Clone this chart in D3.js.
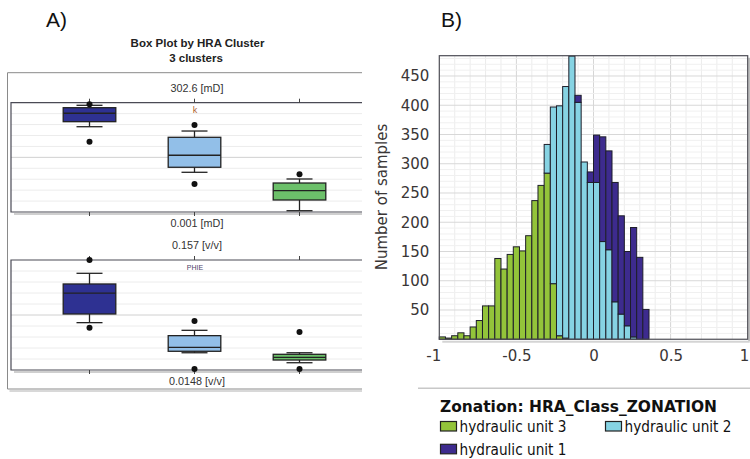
<!DOCTYPE html>
<html>
<head>
<meta charset="utf-8">
<script src="https://cdn.jsdelivr.net/npm/d3@7"></script>
<style>
  html, body { margin: 0; padding: 0; background: #fff; }
  svg { display: block; }
</style>
</head>
<body>
<svg id="chart" width="750" height="459"></svg>
<script>
// ---------- Box plot data (per HRA cluster) ----------
const clusters = ["1", "2", "3"];
const clusterFill = ["#2e3192", "#92bfe8", "#6cc06a"];

// permeability k [mD], log axis 0.001 .. 302.6
const kDomain = [0.001, 302.6];
const kWhiskerLow = [18.9, 0.098, 0.00116];
const kQ1 = [33.8, 0.175, 0.0040];
const kMedian = [89.5, 0.70, 0.0117];
const kQ3 = [170, 5.57, 0.0284];
const kWhiskerHigh = [224, 11.5, 0.0452];
const kOutliers = [[3.34, 251], [0.0254, 23.1], [0.078]];

// effective porosity PHIE [v/v], linear axis 0.0148 .. 0.157
const phiDomain = [0.0148, 0.157];
const phiWhiskerLow = [0.0760, 0.0371, 0.0242];
const phiQ1 = [0.0872, 0.0390, 0.0277];
const phiMedian = [0.1143, 0.0441, 0.0312];
const phiQ3 = [0.1260, 0.0592, 0.0351];
const phiWhiskerHigh = [0.1398, 0.0661, 0.0371];
const phiOutliers = [[0.157, 0.0695], [0.0781, 0.0160], [0.0639, 0.0160]];

// ---------- Histogram data ----------
const binWidth = 0.04;
const binStart = [-1.00, -0.96, -0.92, -0.88, -0.84, -0.80, -0.76, -0.72, -0.68, -0.64,
                  -0.60, -0.56, -0.52, -0.48, -0.44, -0.40, -0.36, -0.32, -0.28, -0.24,
                  -0.20, -0.16, -0.12, -0.08, -0.04, 0.00, 0.04, 0.08, 0.12, 0.16,
                  0.20, 0.24, 0.28, 0.32];
const unit3Counts = [4, 2, 6, 11, 6, 21, 32, 57, 57, 138,
                     120, 145, 158, 151, 177, 237, 263, 284, 95, 6,
                     2, 0, 0, 0, 0, 0, 0, 0, 0, 0,
                     0, 0, 0, 0];
const unit2Counts = [0, 0, 0, 0, 0, 0, 0, 0, 0, 0,
                     0, 0, 0, 0, 0, 0, 0, 49, 302, 393,
                     430, 484, 405, 303, 268, 268, 167, 153, 64, 43,
                     23, 4, 0, 0];
const unit1Counts = [0, 0, 0, 0, 0, 0, 0, 0, 0, 0,
                     0, 0, 0, 0, 0, 0, 0, 0, 0, 0,
                     0, 0, 12, 0, 18, 81, 179, 169, 204, 168,
                     127, 187, 140, 51];
const unitKeys = ["unit3", "unit2", "unit1"];
const unitNames = ["hydraulic unit 3", "hydraulic unit 2", "hydraulic unit 1"];
const unitColors = ["#93c43a", "#86d3e3", "#3d2b8e"];
const xTicks = [-1, -0.5, 0, 0.5, 1];
const xTickLabels = ["-1", "-0.5", "0", "0.5", "1"];
const yTicks = [50, 100, 150, 200, 250, 300, 350, 400, 450];

const svg = d3.select("#chart");
const sansA = "'Liberation Sans', Arial, sans-serif";
const sansB = "'DejaVu Sans', Verdana, sans-serif";

// ================= Panel A: box plots =================
svg.append("text").attr("x", 46).attr("y", 26.5)
  .attr("font-family", sansA).attr("font-size", 21).attr("fill", "#111").text("A)");

svg.append("text").attr("x", 197.5).attr("y", 47.3).attr("text-anchor", "middle")
  .attr("font-family", sansA).attr("font-size", 11.5).attr("font-weight", "bold")
  .attr("fill", "#222").text("Box Plot by HRA Cluster");
svg.append("text").attr("x", 196).attr("y", 61.7).attr("text-anchor", "middle")
  .attr("font-family", sansA).attr("font-size", 11.5).attr("font-weight", "bold")
  .attr("fill", "#222").text("3 clusters");

// outer frame (open on the right)
const frame = { left: 7.5, top: 72.7, bottom: 389, right: 362 };
svg.append("path")
  .attr("d", `M${frame.right},${frame.bottom + 2}H${frame.left + 2}`)
  .attr("stroke", "#d8d8d8").attr("stroke-width", 2).attr("fill", "none");
svg.append("path")
  .attr("d", `M${frame.right},${frame.top}H${frame.left}V${frame.bottom}H${frame.right}`)
  .attr("stroke", "#8a8a8a").attr("stroke-width", 1).attr("fill", "none");

const xBox = d3.scaleBand().domain(clusters).range([37, 352]).padding(0);
const boxHalf = 26.3, capHalf = 13;

function boxPanel(cfg) {
  const { top, bottom, scale, low, q1, med, q3, high, outliers,
          topLabel, bottomLabel, varName, varColor, varSize } = cfg;
  const left = 11, right = 362;
  const g = svg.append("g");
  // grid
  const h = bottom - top;
  d3.range(1, 10).forEach(i => {
    const yy = top + i * h / 10;
    g.append("line").attr("x1", left).attr("x2", right).attr("y1", yy).attr("y2", yy)
      .attr("stroke", i === 5 ? "#d0d0d0" : "#ececec").attr("stroke-width", 1);
  });
  // shadow under the panel
  g.append("line").attr("x1", left + 3).attr("x2", right).attr("y1", bottom + 2).attr("y2", bottom + 2)
    .attr("stroke", "#cfcfcf").attr("stroke-width", 2);
  // panel outline
  g.append("path").attr("d", `M${right},${top}H${left}V${bottom}H${right}`)
    .attr("stroke", "#4a4a55").attr("stroke-width", 1.2).attr("fill", "none");
  // ticks
  clusters.forEach(c => {
    const cx = xBox(c) + xBox.bandwidth() / 2;
    g.append("line").attr("x1", cx).attr("x2", cx).attr("y1", top - 4).attr("y2", top)
      .attr("stroke", "#444");
    g.append("line").attr("x1", cx).attr("x2", cx).attr("y1", bottom).attr("y2", bottom + 4)
      .attr("stroke", "#444");
  });
  // variable name
  g.append("text").attr("x", 195).attr("y", top + 10).attr("text-anchor", "middle")
    .attr("font-family", sansA).attr("font-size", varSize).attr("fill", varColor).text(varName);
  // range labels
  g.append("text").attr("x", 197).attr("y", top - 11).attr("text-anchor", "middle")
    .attr("font-family", sansA).attr("font-size", 10.8).attr("fill", "#333").text(topLabel);
  g.append("text").attr("x", 197).attr("y", bottom + 14.7).attr("text-anchor", "middle")
    .attr("font-family", sansA).attr("font-size", 10.8).attr("fill", "#333").text(bottomLabel);

  clusters.forEach((c, i) => {
    const cx = xBox(c) + xBox.bandwidth() / 2;
    const bg = g.append("g");
    // whiskers
    bg.append("line").attr("x1", cx).attr("x2", cx).attr("y1", scale(q3[i])).attr("y2", scale(high[i]))
      .attr("stroke", "#222").attr("stroke-width", 1.3);
    bg.append("line").attr("x1", cx).attr("x2", cx).attr("y1", scale(q1[i])).attr("y2", scale(low[i]))
      .attr("stroke", "#222").attr("stroke-width", 1.3);
    [high[i], low[i]].forEach(v => {
      bg.append("line").attr("x1", cx - capHalf).attr("x2", cx + capHalf)
        .attr("y1", scale(v)).attr("y2", scale(v)).attr("stroke", "#222").attr("stroke-width", 1.3);
    });
    // box
    bg.append("rect").attr("x", cx - boxHalf).attr("width", boxHalf * 2)
      .attr("y", scale(q3[i])).attr("height", scale(q1[i]) - scale(q3[i]))
      .attr("fill", clusterFill[i]).attr("stroke", "#222").attr("stroke-width", 1.3);
    bg.append("line").attr("x1", cx - boxHalf).attr("x2", cx + boxHalf)
      .attr("y1", scale(med[i])).attr("y2", scale(med[i])).attr("stroke", "#222").attr("stroke-width", 1.3);
    // outliers
    outliers[i].forEach(v => {
      bg.append("circle").attr("cx", cx).attr("cy", scale(v)).attr("r", 3).attr("fill", "#111");
    });
  });
}

const kTop = 102.7, kBottom = 212;
const yK = d3.scaleLog().domain(kDomain).range([kBottom, kTop]);
boxPanel({ top: kTop, bottom: kBottom, scale: yK, low: kWhiskerLow, q1: kQ1, med: kMedian,
  q3: kQ3, high: kWhiskerHigh, outliers: kOutliers,
  topLabel: "302.6 [mD]", bottomLabel: "0.001 [mD]", varName: "k", varColor: "#b0652e", varSize: 9 });

const pTop = 260, pBottom = 370;
const yPhi = d3.scaleLinear().domain(phiDomain).range([pBottom, pTop]);
boxPanel({ top: pTop, bottom: pBottom, scale: yPhi, low: phiWhiskerLow, q1: phiQ1, med: phiMedian,
  q3: phiQ3, high: phiWhiskerHigh, outliers: phiOutliers,
  topLabel: "0.157 [v/v]", bottomLabel: "0.0148 [v/v]", varName: "PHIE", varColor: "#4e3f6a", varSize: 7 });

// ================= Panel B: stacked histogram =================
svg.append("text").attr("x", 441).attr("y", 26.5)
  .attr("font-family", sansA).attr("font-size", 21).attr("fill", "#111").text("B)");

const plot = { left: 439.3, right: 747.7, top: 55.7, bottom: 339.25 };
const x = d3.scaleLinear().domain([-1, 1]).range([plot.left, plot.right]);
const y = d3.scaleLinear().domain([0, 484.7]).range([plot.bottom, plot.top]);

const hg = svg.append("g");
// grid: minor every 0.1 / 10 samples, major every 0.5 / 50 samples
d3.range(-9, 10).forEach(i => {
  const v = i / 10;
  hg.append("line").attr("x1", x(v)).attr("x2", x(v)).attr("y1", plot.top).attr("y2", plot.bottom)
    .attr("stroke", (i % 5 === 0) ? "#d6d6d6" : "#ececec").attr("stroke-width", 1);
});
d3.range(10, 485, 10).forEach(v => {
  hg.append("line").attr("x1", plot.left).attr("x2", plot.right).attr("y1", y(v)).attr("y2", y(v))
    .attr("stroke", (v % 50 === 0) ? "#d8d8d8" : "#f0f0f0").attr("stroke-width", 1);
});

// stacked bars
const rows = binStart.map((b, i) => ({ bin: b, unit3: unit3Counts[i], unit2: unit2Counts[i], unit1: unit1Counts[i] }));
const stacked = d3.stack().keys(unitKeys)(rows);
stacked.forEach((layer, li) => {
  hg.append("g").selectAll("rect").data(layer.filter(d => d[1] - d[0] > 0)).join("rect")
    .attr("x", d => x(d.data.bin))
    .attr("width", d => x(d.data.bin + binWidth) - x(d.data.bin))
    .attr("y", d => y(d[1]))
    .attr("height", d => y(d[0]) - y(d[1]))
    .attr("fill", unitColors[li])
    .attr("stroke", "#1e1e2a").attr("stroke-width", 1);
});

// frame with shadow
hg.append("line").attr("x1", plot.right + 1.5).attr("x2", plot.right + 1.5)
  .attr("y1", plot.top + 2).attr("y2", plot.bottom + 2).attr("stroke", "#bdbdbd").attr("stroke-width", 2);
hg.append("line").attr("x1", plot.left + 3).attr("x2", plot.right + 2)
  .attr("y1", plot.bottom + 2.5).attr("y2", plot.bottom + 2.5).attr("stroke", "#d4d4d4").attr("stroke-width", 2);
hg.append("rect").attr("x", plot.left).attr("y", plot.top)
  .attr("width", plot.right - plot.left).attr("height", plot.bottom - plot.top)
  .attr("fill", "none").attr("stroke", "#4d4d55").attr("stroke-width", 1.2);

// axes
const yAxis = svg.append("g").attr("transform", `translate(${plot.left},0)`)
  .call(d3.axisLeft(y).tickValues(yTicks).tickSize(0).tickPadding(10));
const xAxis = svg.append("g").attr("transform", `translate(0,${plot.bottom})`)
  .call(d3.axisBottom(x).tickValues(xTicks).tickSize(0).tickPadding(11.5)
    .tickFormat((d, i) => xTickLabels[i]));
[yAxis, xAxis].forEach(a => {
  a.select(".domain").remove();
  a.selectAll("text").attr("font-family", sansB).attr("font-size", 15).attr("fill", "#3a3636");
});
// end labels kept inside the plot width
xAxis.selectAll(".tick text")
  .attr("text-anchor", d => d === -1 ? "end" : d === 1 ? "end" : "middle")
  .attr("dx", d => d === -1 ? 1.5 : d === 1 ? 1 : 0);

svg.append("text")
  .attr("transform", "translate(387,197) rotate(-90)")
  .attr("text-anchor", "middle")
  .attr("font-family", sansB).attr("font-size", 15).attr("fill", "#3a3636")
  .text("Number of samples");

// legend
svg.append("line").attr("x1", 418).attr("x2", 750).attr("y1", 388.3).attr("y2", 388.3)
  .attr("stroke", "#c8c8c8").attr("stroke-width", 1.6);
svg.append("text").attr("x", 440).attr("y", 411.7)
  .attr("font-family", sansB).attr("font-size", 16.5).attr("font-weight", "bold").attr("fill", "#111")
  .attr("textLength", 277).attr("lengthAdjust", "spacingAndGlyphs")
  .text("Zonation: HRA_Class_ZONATION");

const legendPos = [[440, 421.5], [605, 421.5], [440, 444.3]];
unitNames.forEach((name, i) => {
  const [lx, ly] = legendPos[i];
  svg.append("rect").attr("x", lx + 0.5).attr("y", ly).attr("width", 16).attr("height", 9.5)
    .attr("fill", unitColors[i]).attr("stroke", "#222").attr("stroke-width", 1.2);
  svg.append("text").attr("x", lx + 19.5).attr("y", ly + 10.3)
    .attr("font-family", sansB).attr("font-size", 15).attr("fill", "#111")
    .attr("textLength", 107).attr("lengthAdjust", "spacingAndGlyphs")
    .text(name);
});
</script>
</body>
</html>
